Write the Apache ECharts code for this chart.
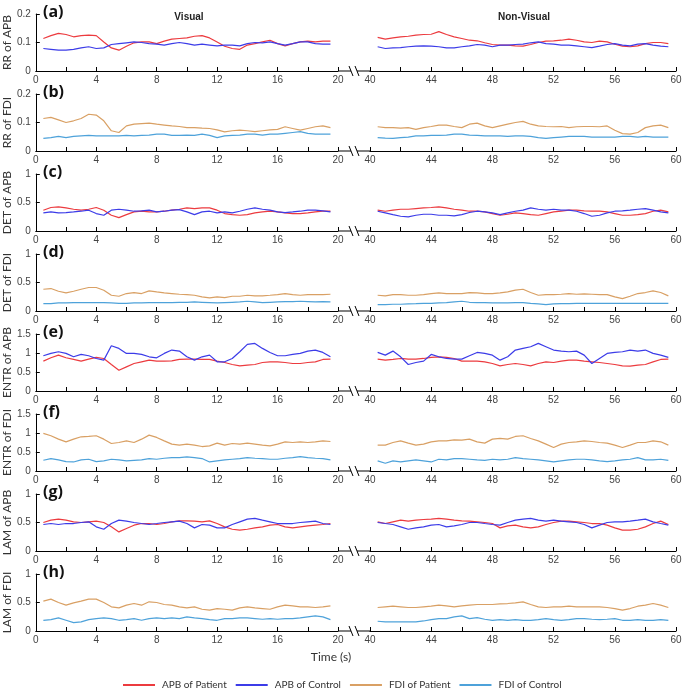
<!DOCTYPE html>
<html><head><meta charset="utf-8">
<script src="https://cdn.jsdelivr.net/npm/echarts@6/dist/echarts.min.js"></script>
<style>html,body{margin:0;padding:0;background:#fff}#c{width:685px;height:693px}</style>
</head><body><div id="c"></div>
<script>
// ---------- time stamps (s) ----------
const timeVis = [0.5,1,1.5,2,2.5,3,3.5,4,4.5,5,5.5,6,6.5,7,7.5,8,8.5,9,9.5,10,10.5,11,11.5,12,12.5,13,13.5,14,14.5,15,15.5,16,16.5,17,17.5,18,18.5,19,19.5];
const timeNon = [40.5,41,41.5,42,42.5,43,43.5,44,44.5,45,45.5,46,46.5,47,47.5,48,48.5,49,49.5,50,50.5,51,51.5,52,52.5,53,53.5,54,54.5,55,55.5,56,56.5,57,57.5,58,58.5,59,59.5];

// ---------- labels ----------
const panelLabels = ['(a)','(b)','(c)','(d)','(e)','(f)','(g)','(h)'];
const yAxisNames = ['RR of APB','RR of FDI','DET of APB','DET of FDI','ENTR of APB','ENTR of FDI','LAM of APB','LAM of FDI'];
const yMaxes = [0.2,0.2,1,1,1.5,1.5,1,1];
const yIntervals = [0.1,0.1,0.5,0.5,0.5,0.5,0.5,0.5];
const seriesNames = ['APB of Patient','APB of Control','FDI of Patient','FDI of Control'];
const columnTitles = ['Visual','Non-Visual'];
const xAxisTitle = 'Time (s)';

// ---------- (a) RR of APB ----------
const rrApbPatientVis = [0.114,0.124,0.132,0.128,0.120,0.124,0.126,0.124,0.102,0.081,0.073,0.087,0.099,0.102,0.102,0.096,0.105,0.112,0.114,0.116,0.122,0.124,0.116,0.102,0.087,0.079,0.076,0.091,0.096,0.102,0.108,0.096,0.088,0.096,0.102,0.105,0.102,0.105,0.105];
const rrApbControlVis = [0.079,0.076,0.073,0.073,0.076,0.081,0.085,0.079,0.081,0.093,0.096,0.099,0.102,0.100,0.096,0.094,0.091,0.096,0.100,0.096,0.091,0.094,0.091,0.088,0.091,0.091,0.088,0.096,0.100,0.099,0.102,0.096,0.091,0.096,0.102,0.102,0.096,0.094,0.094];
const rrApbPatientNon = [0.118,0.112,0.116,0.120,0.122,0.126,0.128,0.129,0.138,0.128,0.120,0.114,0.108,0.106,0.099,0.093,0.091,0.091,0.088,0.087,0.093,0.100,0.105,0.106,0.108,0.112,0.108,0.102,0.100,0.105,0.102,0.094,0.087,0.085,0.088,0.096,0.100,0.100,0.096];
const rrApbControlNon = [0.085,0.079,0.081,0.082,0.085,0.087,0.088,0.087,0.085,0.081,0.081,0.085,0.088,0.093,0.091,0.085,0.091,0.091,0.093,0.094,0.099,0.102,0.096,0.094,0.091,0.091,0.088,0.085,0.082,0.087,0.093,0.096,0.091,0.088,0.094,0.096,0.091,0.087,0.085];

// ---------- (b) RR of FDI ----------
const rrFdiPatientVis = [0.114,0.118,0.109,0.100,0.106,0.114,0.129,0.126,0.106,0.071,0.065,0.088,0.094,0.096,0.098,0.094,0.091,0.088,0.086,0.082,0.082,0.080,0.079,0.074,0.067,0.071,0.073,0.071,0.068,0.071,0.074,0.076,0.085,0.079,0.073,0.079,0.085,0.088,0.082];
const rrFdiControlVis = [0.044,0.047,0.051,0.047,0.051,0.053,0.055,0.053,0.053,0.053,0.053,0.055,0.053,0.055,0.056,0.059,0.059,0.055,0.055,0.056,0.055,0.059,0.055,0.047,0.053,0.055,0.056,0.059,0.059,0.056,0.059,0.059,0.062,0.065,0.068,0.062,0.059,0.059,0.059];
const rrFdiPatientNon = [0.085,0.082,0.082,0.080,0.082,0.076,0.082,0.086,0.091,0.091,0.086,0.082,0.094,0.098,0.088,0.082,0.088,0.094,0.100,0.104,0.094,0.088,0.086,0.085,0.086,0.082,0.085,0.086,0.086,0.085,0.088,0.073,0.061,0.059,0.065,0.082,0.088,0.091,0.082];
const rrFdiControlNon = [0.047,0.045,0.044,0.047,0.049,0.053,0.053,0.055,0.055,0.056,0.059,0.059,0.056,0.055,0.053,0.053,0.053,0.051,0.053,0.053,0.051,0.047,0.044,0.047,0.049,0.051,0.051,0.051,0.049,0.049,0.049,0.049,0.051,0.051,0.049,0.051,0.049,0.049,0.049];

// ---------- (c) DET of APB ----------
const detApbPatientVis = [0.365,0.412,0.424,0.406,0.382,0.365,0.382,0.412,0.365,0.276,0.235,0.288,0.335,0.347,0.335,0.335,0.347,0.365,0.382,0.406,0.394,0.406,0.406,0.365,0.306,0.288,0.276,0.288,0.318,0.335,0.347,0.335,0.318,0.306,0.306,0.318,0.335,0.347,0.347];
const detApbControlVis = [0.318,0.335,0.318,0.324,0.335,0.347,0.365,0.306,0.276,0.365,0.382,0.365,0.347,0.353,0.365,0.335,0.347,0.365,0.376,0.335,0.288,0.335,0.347,0.318,0.335,0.318,0.347,0.382,0.406,0.382,0.365,0.335,0.324,0.335,0.347,0.365,0.365,0.353,0.335];
const detApbPatientNon = [0.365,0.347,0.365,0.382,0.382,0.394,0.406,0.412,0.424,0.406,0.382,0.365,0.347,0.347,0.335,0.306,0.276,0.294,0.318,0.306,0.288,0.276,0.306,0.335,0.347,0.365,0.365,0.353,0.347,0.347,0.335,0.306,0.276,0.276,0.288,0.306,0.347,0.365,0.335];
const detApbControlNon = [0.347,0.318,0.288,0.259,0.247,0.276,0.294,0.294,0.276,0.276,0.265,0.288,0.324,0.347,0.335,0.318,0.288,0.318,0.347,0.365,0.406,0.382,0.365,0.382,0.365,0.365,0.347,0.306,0.259,0.276,0.318,0.347,0.353,0.365,0.382,0.394,0.365,0.335,0.318];

// ---------- (d) DET of FDI ----------
const detFdiPatientVis = [0.382,0.394,0.347,0.318,0.347,0.382,0.412,0.412,0.365,0.276,0.259,0.306,0.324,0.306,0.353,0.335,0.318,0.306,0.294,0.288,0.276,0.247,0.229,0.247,0.235,0.259,0.259,0.276,0.265,0.265,0.276,0.288,0.306,0.288,0.276,0.288,0.288,0.288,0.294];
const detFdiControlVis = [0.129,0.129,0.141,0.141,0.147,0.147,0.147,0.147,0.147,0.141,0.135,0.135,0.141,0.141,0.147,0.147,0.147,0.147,0.153,0.153,0.159,0.153,0.147,0.141,0.147,0.153,0.159,0.171,0.159,0.147,0.153,0.159,0.165,0.165,0.171,0.165,0.159,0.165,0.159];
const detFdiPatientNon = [0.276,0.265,0.288,0.288,0.276,0.276,0.288,0.306,0.318,0.306,0.306,0.306,0.324,0.318,0.306,0.306,0.318,0.335,0.365,0.382,0.324,0.276,0.288,0.288,0.294,0.306,0.294,0.300,0.294,0.288,0.288,0.247,0.218,0.259,0.306,0.324,0.353,0.324,0.265];
const detFdiControlNon = [0.112,0.112,0.118,0.118,0.124,0.129,0.135,0.135,0.141,0.147,0.159,0.171,0.153,0.147,0.147,0.141,0.141,0.141,0.147,0.147,0.135,0.124,0.112,0.124,0.129,0.129,0.135,0.135,0.135,0.135,0.135,0.135,0.135,0.135,0.135,0.135,0.135,0.135,0.135];

// ---------- (e) ENTR of APB ----------
const entrApbPatientVis = [0.786,0.874,0.944,0.874,0.830,0.786,0.838,0.883,0.856,0.697,0.547,0.635,0.724,0.768,0.812,0.786,0.786,0.794,0.830,0.838,0.838,0.830,0.830,0.786,0.750,0.697,0.662,0.680,0.697,0.750,0.768,0.768,0.750,0.724,0.724,0.750,0.768,0.830,0.838];
const entrApbControlVis = [0.927,0.989,1.033,0.989,0.900,0.962,0.927,0.856,0.812,1.192,1.121,0.989,0.989,0.962,0.900,0.874,0.989,1.077,1.050,0.900,0.812,0.900,0.944,0.768,0.768,0.856,1.033,1.227,1.253,1.121,1.015,0.927,0.927,0.962,0.989,1.050,1.077,1.015,0.900];
const entrApbPatientNon = [0.838,0.812,0.830,0.856,0.838,0.838,0.856,0.883,0.900,0.883,0.856,0.786,0.786,0.786,0.768,0.724,0.662,0.697,0.724,0.697,0.662,0.724,0.768,0.750,0.786,0.812,0.812,0.786,0.768,0.750,0.724,0.697,0.662,0.653,0.680,0.697,0.768,0.830,0.838];
const entrApbControlNon = [1.015,0.944,1.050,0.900,0.697,0.750,0.786,0.962,0.900,0.856,0.838,0.838,0.927,1.015,0.989,0.944,0.812,0.900,1.077,1.121,1.165,1.253,1.165,1.077,1.050,1.033,1.050,0.944,0.724,0.856,0.989,1.015,1.033,1.077,1.050,1.077,0.989,0.944,0.883];

// ---------- (f) ENTR of FDI ----------
const entrFdiPatientVis = [0.989,0.927,0.838,0.768,0.838,0.900,0.909,0.927,0.838,0.724,0.750,0.794,0.750,0.838,0.944,0.883,0.794,0.706,0.680,0.706,0.680,0.644,0.662,0.733,0.680,0.724,0.706,0.733,0.706,0.680,0.662,0.706,0.768,0.750,0.768,0.750,0.768,0.794,0.777];
const entrFdiControlVis = [0.282,0.327,0.291,0.247,0.238,0.291,0.309,0.247,0.265,0.309,0.291,0.265,0.282,0.291,0.327,0.309,0.335,0.353,0.353,0.371,0.353,0.327,0.238,0.265,0.291,0.309,0.327,0.353,0.335,0.327,0.309,0.309,0.335,0.353,0.380,0.353,0.335,0.327,0.291];
const entrFdiPatientNon = [0.680,0.680,0.750,0.794,0.733,0.680,0.706,0.768,0.794,0.794,0.821,0.812,0.838,0.768,0.733,0.838,0.856,0.838,0.909,0.927,0.856,0.794,0.706,0.618,0.706,0.750,0.768,0.794,0.777,0.750,0.733,0.680,0.618,0.680,0.750,0.750,0.794,0.768,0.680];
const entrFdiControlNon = [0.265,0.203,0.265,0.238,0.265,0.291,0.265,0.238,0.309,0.291,0.327,0.327,0.309,0.291,0.282,0.309,0.291,0.309,0.353,0.327,0.309,0.291,0.265,0.238,0.265,0.291,0.309,0.309,0.291,0.265,0.247,0.265,0.291,0.309,0.353,0.291,0.291,0.309,0.282];

// ---------- (g) LAM of APB ----------
const lamApbPatientVis = [0.500,0.541,0.559,0.541,0.512,0.500,0.512,0.524,0.500,0.424,0.335,0.394,0.453,0.482,0.482,0.465,0.482,0.512,0.529,0.529,0.524,0.512,0.529,0.482,0.424,0.382,0.365,0.382,0.406,0.424,0.453,0.465,0.424,0.406,0.424,0.441,0.453,0.465,0.482];
const lamApbControlVis = [0.465,0.482,0.465,0.482,0.482,0.500,0.512,0.424,0.382,0.482,0.541,0.524,0.500,0.482,0.465,0.482,0.500,0.512,0.524,0.482,0.406,0.465,0.453,0.406,0.406,0.465,0.512,0.559,0.571,0.541,0.512,0.482,0.482,0.482,0.500,0.512,0.524,0.482,0.465];
const lamApbPatientNon = [0.512,0.482,0.512,0.541,0.524,0.541,0.553,0.559,0.571,0.559,0.541,0.529,0.524,0.512,0.500,0.482,0.406,0.441,0.453,0.424,0.406,0.424,0.465,0.500,0.524,0.524,0.512,0.500,0.482,0.482,0.453,0.406,0.365,0.365,0.382,0.424,0.482,0.524,0.465];
const lamApbControlNon = [0.500,0.482,0.465,0.424,0.382,0.406,0.424,0.453,0.465,0.424,0.441,0.465,0.500,0.500,0.482,0.465,0.453,0.500,0.541,0.559,0.571,0.541,0.524,0.541,0.524,0.512,0.500,0.465,0.406,0.453,0.500,0.512,0.512,0.524,0.541,0.559,0.512,0.482,0.453];

// ---------- (h) LAM of FDI ----------
const lamFdiPatientVis = [0.524,0.559,0.500,0.453,0.494,0.524,0.559,0.559,0.500,0.424,0.406,0.453,0.482,0.453,0.512,0.500,0.465,0.453,0.424,0.406,0.424,0.382,0.365,0.394,0.382,0.365,0.406,0.424,0.406,0.394,0.382,0.424,0.453,0.441,0.424,0.424,0.412,0.424,0.441];
const lamFdiControlVis = [0.188,0.200,0.229,0.188,0.147,0.159,0.200,0.218,0.229,0.218,0.188,0.200,0.218,0.188,0.218,0.229,0.218,0.229,0.218,0.247,0.229,0.218,0.200,0.188,0.218,0.218,0.229,0.229,0.218,0.206,0.218,0.206,0.218,0.218,0.229,0.247,0.265,0.247,0.200];
const lamFdiPatientNon = [0.412,0.424,0.435,0.424,0.412,0.412,0.424,0.435,0.453,0.441,0.424,0.441,0.453,0.465,0.465,0.465,0.476,0.482,0.494,0.512,0.465,0.424,0.412,0.424,0.424,0.435,0.424,0.424,0.424,0.424,0.412,0.394,0.365,0.394,0.435,0.453,0.482,0.453,0.412];
const lamFdiControlNon = [0.171,0.159,0.159,0.159,0.159,0.159,0.176,0.200,0.218,0.218,0.247,0.265,0.218,0.235,0.206,0.188,0.200,0.188,0.200,0.188,0.188,0.200,0.218,0.200,0.188,0.200,0.218,0.218,0.206,0.200,0.206,0.218,0.188,0.188,0.200,0.188,0.188,0.200,0.188];

// ---------- assembly ----------
const rows = [
  [rrApbPatientVis, rrApbControlVis, rrApbPatientNon, rrApbControlNon],
  [rrFdiPatientVis, rrFdiControlVis, rrFdiPatientNon, rrFdiControlNon],
  [detApbPatientVis, detApbControlVis, detApbPatientNon, detApbControlNon],
  [detFdiPatientVis, detFdiControlVis, detFdiPatientNon, detFdiControlNon],
  [entrApbPatientVis, entrApbControlVis, entrApbPatientNon, entrApbControlNon],
  [entrFdiPatientVis, entrFdiControlVis, entrFdiPatientNon, entrFdiControlNon],
  [lamApbPatientVis, lamApbControlVis, lamApbPatientNon, lamApbControlNon],
  [lamFdiPatientVis, lamFdiControlVis, lamFdiPatientNon, lamFdiControlNon]
];
const colors = {'APB of Patient':'#ec3b3f','APB of Control':'#3c3ce8','FDI of Patient':'#d9a064','FDI of Control':'#4ea2da'};

const ROW0 = 14, ROWH = 57, ROWSTEP = 80;
const LX = 34, LW = 304, RX = 370, RW = 306;
const tickFont = 'Liberation Sans';
const textFont = 'Lato';

const grids = [], xAxes = [], yAxes = [], series = [], graphics = [];
function pairs(xs, ys){ return xs.map((x,i)=>[x, ys[i]]); }

for (let r = 0; r < 8; r++) {
  const top = ROW0 + r * ROWSTEP;
  const base = top + ROWH;
  const apb = (r % 2 === 0);
  const nP = apb ? seriesNames[0] : seriesNames[2];
  const nC = apb ? seriesNames[1] : seriesNames[3];
  for (let c = 0; c < 2; c++) {
    const gi = grids.length;
    grids.push({left: c ? RX : LX, top: top, width: c ? RW : LW, height: ROWH});
    xAxes.push({
      gridIndex: gi, type: 'value', min: c ? 40 : 0, max: c ? 60 : 20, interval: 4,
      axisLine: {onZero: false, lineStyle: {color: '#000', width: 1}},
      axisTick: {show: true, inside: true, length: 4, lineStyle: {color: '#000'}},
      minorTick: {show: true, splitNumber: 2, length: 4, lineStyle: {color: '#000'}},
      splitLine: {show: false},
      axisLabel: {fontSize: 10, color: '#444', margin: 4, fontFamily: tickFont}
    });
    const y = {
      gridIndex: gi, type: 'value', min: 0, max: yMaxes[r], interval: yIntervals[r],
      splitLine: {show: false}
    };
    if (c === 0) {
      Object.assign(y, {
        axisLine: {show: true, onZero: false, lineStyle: {color: '#000', width: 1}},
        axisTick: {show: true, inside: true, length: 4, lineStyle: {color: '#000'}},
        axisLabel: {fontSize: 10, color: '#444', margin: 5, fontFamily: tickFont},
        name: yAxisNames[r], nameLocation: 'middle', nameGap: 17,
        nameTextStyle: {fontSize: 12, color: '#333', fontFamily: textFont}
      });
    } else {
      Object.assign(y, {show: false});
    }
    yAxes.push(y);
    const xs = c ? timeNon : timeVis;
    const dP = rows[r][c ? 2 : 0], dC = rows[r][c ? 3 : 1];
    series.push({type: 'line', name: nP, xAxisIndex: gi, yAxisIndex: gi, data: pairs(xs, dP),
      symbol: 'none', lineStyle: {width: 1.2, color: colors[nP]}, itemStyle: {color: colors[nP]}, z: 2});
    series.push({type: 'line', name: nC, xAxisIndex: gi, yAxisIndex: gi, data: pairs(xs, dC),
      symbol: 'none', lineStyle: {width: 1.2, color: colors[nC]}, itemStyle: {color: colors[nC]}, z: 3});
  }
  // axis break decoration
  const ls = {stroke: '#000', lineWidth: 1};
  graphics.push({type: 'line', shape: {x1: LX + LW, y1: base, x2: 351, y2: base}, style: ls});
  graphics.push({type: 'line', shape: {x1: 349, y1: base - 5, x2: 353, y2: base + 5}, style: ls});
  graphics.push({type: 'line', shape: {x1: 355, y1: base - 5, x2: 359, y2: base + 5}, style: ls});
  graphics.push({type: 'line', shape: {x1: 357, y1: base, x2: RX, y2: base}, style: ls});
  // panel label
  graphics.push({type: 'text', x: 43, y: top - 2, style: {text: panelLabels[r], font: 'bold 16px "Open Sans"', fill: '#111', align: 'left', verticalAlign: 'middle'}});
}
graphics.push({type: 'text', x: 189, y: 17, style: {text: columnTitles[0], font: 'bold 10px "Liberation Sans"', fill: '#222', align: 'center', verticalAlign: 'middle'}});
graphics.push({type: 'text', x: 524, y: 17, style: {text: columnTitles[1], font: 'bold 10px "Liberation Sans"', fill: '#222', align: 'center', verticalAlign: 'middle'}});
graphics.push({type: 'text', x: 331, y: 657, style: {text: xAxisTitle, font: '12px Lato', fill: '#333', align: 'center', verticalAlign: 'middle'}});

const chart = echarts.init(document.getElementById('c'));
chart.setOption({
  animation: false,
  backgroundColor: '#fff',
  grid: grids, xAxis: xAxes, yAxis: yAxes, series: series,
  legend: {
    data: seriesNames, left: 123, top: 680, padding: 0, icon: 'rect', itemWidth: 32, itemHeight: 2, itemGap: 9,
    itemStyle: {borderWidth: 0},
    textStyle: {fontSize: 10, color: '#333', fontFamily: textFont, padding: [0, 0, 0, 2]}
  },
  graphic: graphics
});
</script></body></html>
